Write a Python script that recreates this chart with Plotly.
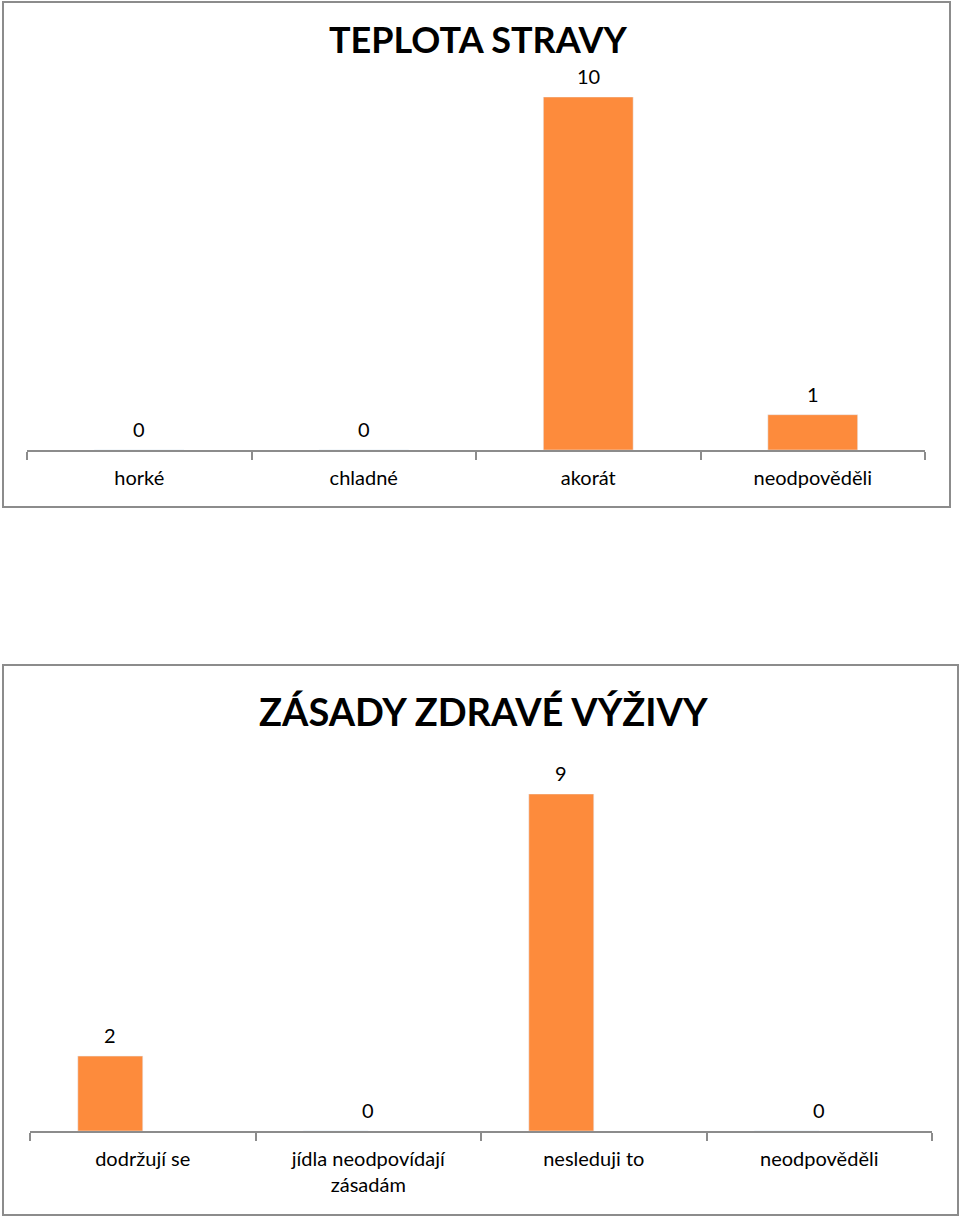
import plotly.graph_objects as go

# chart 1 - teplota stravy
teplota_cats = ["horké", "chladné", "akorát", "neodpověděli"]
teplota_vals = [0, 0, 10, 1]

# chart 2 - zasady zdrave vyzivy
zasady_cats = ["dodržují se", "jídla neodpovídají<br>zásadám", "nesleduji to", "neodpověděli"]
zasady_vals = [2, 0, 9, 0]

W, H = 960, 1218
ORANGE = "#FD8B3C"
GRAY = "#8C8C8C"
FONT = "Lato"

def px_x(p):
    return p / W

def px_y(p):
    return 1 - p / H

fig = go.Figure()

fig.add_trace(go.Bar(x=teplota_cats, y=teplota_vals, xaxis="x", yaxis="y",
                     marker_color=ORANGE, width=0.4,
                     showlegend=False, hoverinfo="x+y"))

fig.add_trace(go.Bar(x=zasady_cats, y=zasady_vals, xaxis="x2", yaxis="y2",
                     marker_color=ORANGE, width=0.288, offset=-0.288,
                     showlegend=False, hoverinfo="x+y"))

# value labels above the bars
labels = []
for c, v in zip(teplota_cats, teplota_vals):
    labels.append(dict(x=c, y=v, xref="x", yref="y", text=str(v), showarrow=False,
                       yanchor="middle", yshift=21,
                       font=dict(family=FONT, size=20, color="#000000")))
for c, v in zip(zasady_cats, zasady_vals):
    labels.append(dict(x=c, y=v, xref="x2", yref="y2", text=str(v), showarrow=False,
                       yanchor="middle", yshift=21, xshift=-32.5 if v else 0,
                       font=dict(family=FONT, size=20, color="#000000")))

xax = dict(showline=True, linecolor=GRAY, linewidth=1.5, ticks="outside",
           tickson="boundaries", ticklen=8, tickcolor=GRAY, tickwidth=1.5,
           ticklabelstandoff=9,
           showgrid=False, zeroline=False, fixedrange=True,
           tickfont=dict(family=FONT, size=20, color="#000000"))
yax = dict(visible=False, showgrid=False, zeroline=False, fixedrange=True)

fig.update_layout(
    width=W, height=H,
    margin=dict(l=0, r=0, t=0, b=0),
    paper_bgcolor="white", plot_bgcolor="white",
    font=dict(family=FONT, size=20, color="#000000"),
    xaxis=dict(xax, domain=[px_x(27), px_x(925)], anchor="y"),
    yaxis=dict(yax, domain=[px_y(450), px_y(97)], range=[0, 10], anchor="x"),
    xaxis2=dict(xax, domain=[px_x(30), px_x(932)], anchor="y2"),
    yaxis2=dict(yax, domain=[px_y(1131), px_y(794)], range=[0, 9], anchor="x2"),
    shapes=[
        dict(type="rect", xref="paper", yref="paper",
             x0=px_x(3), x1=px_x(950), y0=px_y(507), y1=px_y(2),
             line=dict(color=GRAY, width=2)),
        dict(type="rect", xref="paper", yref="paper",
             x0=px_x(3), x1=px_x(958), y0=px_y(1215), y1=px_y(665),
             line=dict(color=GRAY, width=2)),
    ],
    annotations=labels + [
        dict(text="<b>TEPLOTA STRAVY</b>", xref="paper", yref="paper",
             x=px_x(478), y=px_y(39), xanchor="center", yanchor="middle", showarrow=False,
             font=dict(family=FONT, size=36, color="#000000")),
        dict(text="<b>ZÁSADY ZDRAVÉ VÝŽIVY</b>", xref="paper", yref="paper",
             x=px_x(483), y=px_y(711), xanchor="center", yanchor="middle", showarrow=False,
             font=dict(family=FONT, size=38, color="#000000")),
    ],
)

# page body has a default 8px margin, drop it so the figure sits at 0,0
fig.write_html("out.html", config={"displayModeBar": False},
               post_script="document.body.style.margin='0';")
